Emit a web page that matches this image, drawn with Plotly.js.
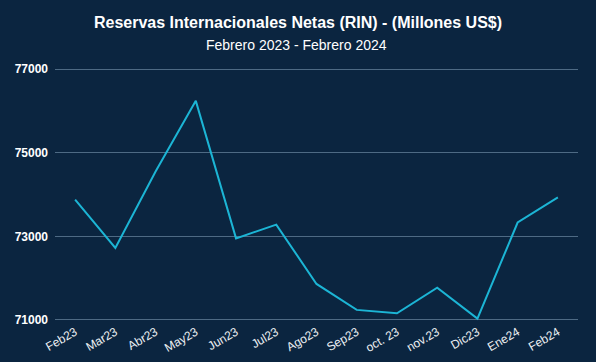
<!DOCTYPE html>
<html>
<head>
<meta charset="utf-8">
<script src="https://cdn.plot.ly/plotly-3.0.1.min.js"></script>
<style>html,body{margin:0;padding:0;background:#0b2540;}#chart{width:596px;height:362px;}</style>
</head>
<body>
<div id="chart"></div>
<script>
const months = ["Feb23","Mar23","Abr23","May23","Jun23","Jul23","Ago23","Sep23","oct. 23","nov.23","Dic23","Ene24","Feb24"];
const rin = [73880, 72720, 74550, 76240, 72950, 73280, 71860, 71240, 71160, 71770, 71030, 73330, 73930];
const yTicks = [71000, 73000, 75000, 77000];

const bg = "#0b2540";
const trace = {
  x: months, y: rin, type: "scatter", mode: "lines",
  line: {color: "#1cb5d5", width: 2},
  hoverinfo: "x+y"
};
const layout = {
  width: 596, height: 362,
  paper_bgcolor: bg, plot_bgcolor: bg,
  margin: {l: 55, r: 18, t: 67, b: 40},
  font: {family: "Liberation Sans, Arial, sans-serif", color: "#ffffff"},
  title: {
    text: "<b>Reservas Internacionales Netas (RIN) - (Millones US$)</b>",
    font: {size: 16, color: "#ffffff", family: "Liberation Sans, Arial, sans-serif"},
    x: 0.5, xanchor: "center", xref: "container",
    y: 1 - 22/362, yref: "container", yanchor: "middle"
  },
  annotations: [{
    text: "Febrero 2023 - Febrero 2024",
    xref: "paper", yref: "paper", x: (296.5-55)/523, y: 1 + (67-45)/255,
    xanchor: "center", yanchor: "middle", showarrow: false,
    font: {size: 14, color: "#ffffff"}
  }],
  xaxis: {
    type: "category", range: [-0.5, 12.5],
    showgrid: false, zeroline: false, showline: false,
    tickangle: -30, tickfont: {size: 12, color: "#eef1f4"},
    ticks: "", fixedrange: true
  },
  yaxis: {
    range: [70950, 77050], tickvals: yTicks, ticktext: yTicks.map(String),
    showgrid: true, gridcolor: "#4e6a84", gridwidth: 1,
    zeroline: false, showline: false, ticks: "",
    tickfont: {size: 12, color: "#ffffff", weight: "bold"}, ticklabelstandoff: 6
  },
  showlegend: false
};
Plotly.newPlot("chart", [trace], layout, {displayModeBar: false, staticPlot: true});
</script>
</body>
</html>
